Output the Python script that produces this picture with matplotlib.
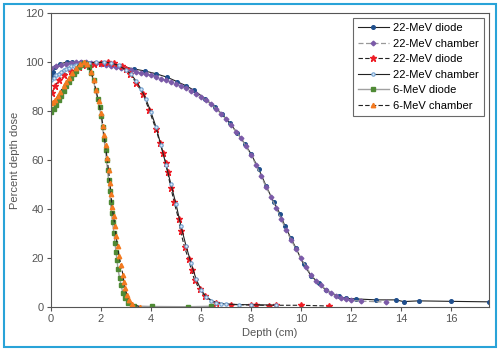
import matplotlib.pyplot as plt
from matplotlib.patches import Rectangle

# 22-MeV diode (navy circles, solid line)
d22_x = [0.02, 0.08, 0.16, 0.36, 0.64, 0.84, 1.2, 1.5, 1.76, 2.0, 2.4, 2.8, 3.3, 3.76, 4.2,
         4.64, 5.04, 5.4, 5.72, 6.16, 6.56, 6.84, 7.14, 7.44, 7.76, 8.0, 8.3, 8.6, 8.9, 9.16,
         9.36, 9.6, 9.8, 10.1, 10.4, 10.7, 11.0, 11.5, 11.8, 12.2, 13.0, 13.8, 14.1, 14.7, 16.0, 17.5]
d22_y = [94, 96, 98, 99.2, 100, 100, 99.8, 99.6, 99.5, 99.5, 99.1, 98.3, 97.2, 96.3, 95.2,
         93.8, 92.0, 90.3, 88.5, 85.0, 81.6, 78.7, 75.2, 71.2, 66.5, 62.5, 56.5, 49.5, 43, 38,
         33, 28, 24, 17.5, 12.8, 9.8, 6.8, 4.3, 3.5, 3.3, 2.9, 2.9, 2.2, 2.5, 2.3, 2.1]

# 22-MeV chamber (purple diamonds, grey dashed line)
c22_x = [0.0, 0.2, 0.4, 0.6, 0.8, 1.0, 1.2, 1.4, 1.6, 1.8, 2.0, 2.2, 2.4, 2.6, 2.8, 3.0, 3.2,
         3.4, 3.6, 3.8, 4.0, 4.2, 4.4, 4.6, 4.8, 5.0, 5.2, 5.4, 5.6, 5.8, 6.0, 6.2, 6.4, 6.6,
         6.8, 7.0, 7.2, 7.4, 7.6, 7.8, 8.0, 8.2, 8.4, 8.6, 8.8, 9.0, 9.2, 9.4, 9.6, 9.8, 10.0,
         10.2, 10.4, 10.6, 10.8, 11.0, 11.2, 11.4, 11.6, 11.8, 12.0, 12.4, 13.4]
c22_y = [97.5, 98.2, 98.8, 99.3, 99.7, 100, 100, 99.8, 99.6, 99.4, 99.1, 98.8, 98.3, 97.8,
         97.4, 97.0, 96.6, 96.1, 95.6, 95.1, 94.5, 94.0, 93.2, 92.6, 91.8, 91.0, 90.1, 89.2,
         88.1, 87.0, 85.7, 84.3, 82.8, 81.0, 78.9, 76.6, 74.1, 71.6, 68.9, 65.6, 62.0, 58.0,
         53.5, 49.0, 45.0, 40.5, 36.0, 31.5, 27.5, 23.5, 20.0, 16.5, 13.2, 10.8, 8.8, 7.0,
         5.6, 4.6, 3.7, 3.1, 2.7, 2.4, 2.0]

# second "22-MeV diode" (red stars, dashed line)
d12_x = [0.05, 0.15, 0.3, 0.5, 0.8, 1.1, 1.4, 1.7, 2.0, 2.26, 2.5, 2.84, 3.0, 3.16, 3.4,
         3.68, 3.92, 4.2, 4.36, 4.48, 4.6, 4.66, 4.8, 4.92, 5.1, 5.18, 5.34, 5.5, 5.62, 5.74,
         5.94, 6.14, 6.6, 7.18, 8.0, 8.2, 8.7, 9.0, 10.0, 11.1]
d12_y = [87.5, 90, 92.5, 94.5, 96.5, 97.8, 98.6, 99.2, 99.6, 99.8, 99.5, 98.2, 97, 95.3,
         91.5, 87, 80.5, 72.5, 67, 63, 58.7, 55, 48.5, 43, 36, 31, 24.5, 19.5, 15, 11,
         7.3, 4.3, 1.8, 1.0, 0.8, 0.8, 0.6, 0.7, 0.7, 0.4]

# second "22-MeV chamber" (light blue circles, solid line)
c12_x = [0.0, 0.1, 0.2, 0.3, 0.4, 0.5, 0.6, 0.7, 0.8, 0.9, 1.0, 1.2, 1.5, 1.8, 2.1, 2.4,
         2.7, 3.0, 3.2, 3.4, 3.6, 3.8, 4.0, 4.2, 4.4, 4.6, 4.8, 5.0, 5.2, 5.4, 5.6, 5.8,
         6.0, 6.2, 6.4, 6.6, 6.8, 7.0, 7.5, 8.0, 9.0]
c12_y = [92.5, 93.5, 94.5, 95.3, 96, 96.6, 97.2, 97.7, 98.2, 98.5, 98.8, 99.2, 99.6, 99.8,
         99.9, 99.6, 98.6, 96.8, 95, 92.3, 89, 84.8, 79.5, 73.5, 66, 58, 50, 42, 33, 25,
         18, 11.5, 7, 4.2, 2.6, 1.8, 1.3, 1.2, 1.0, 0.9, 0.8]

# 6-MeV diode (green squares, grey solid line)
d6_x = [0.0, 0.1, 0.2, 0.3, 0.4, 0.5, 0.6, 0.7, 0.8, 0.9, 1.0, 1.1, 1.2, 1.3, 1.4, 1.5,
        1.6, 1.7, 1.78, 1.86, 1.94, 2.0, 2.06, 2.12, 2.18, 2.22, 2.26, 2.3, 2.34, 2.38,
        2.42, 2.46, 2.52, 2.56, 2.6, 2.64, 2.68, 2.74, 2.8, 2.88, 2.96, 3.08, 3.3, 4.04,
        5.46, 6.4]
d6_y = [79.5, 81, 82.5, 84.5, 86, 88, 90, 91.8, 93.5, 95, 96.5, 97.8, 98.8, 99.6, 99.3,
        98, 95.5, 92.5, 88.5, 85, 81.5, 78, 73.5, 68.5, 64, 60, 56, 52, 47.5, 43, 38.5,
        34.5, 30, 26, 22.5, 19, 15.5, 12, 8.8, 5.7, 3.7, 1.6, 0.4, 0.2, 0.1, 0.3]

# 6-MeV chamber (orange triangles, dashed line)
c6_x = [0.0, 0.08, 0.16, 0.26, 0.36, 0.5, 0.6, 0.7, 0.85, 1.0, 1.15, 1.3, 1.45, 1.6, 1.7,
        1.8, 1.9, 2.0, 2.08, 2.12, 2.18, 2.24, 2.3, 2.36, 2.4, 2.44, 2.5, 2.56, 2.6, 2.66,
        2.72, 2.8, 2.88, 2.92, 2.96, 3.04, 3.12, 3.24, 3.56]
c6_y = [83.3, 83.8, 84.5, 86, 87.7, 90, 91.8, 93.4, 95.5, 97.5, 99, 99.8, 99, 96, 92.6,
        88.5, 84, 79, 74, 70, 66, 61, 56, 50.5, 46, 41, 37, 33, 29, 25, 21, 17, 13, 10,
        7.8, 4.9, 2.9, 1.2, 0.1]

plt.rcParams['font.family'] = ['Liberation Sans', 'DejaVu Sans']

fig = plt.figure(figsize=(5, 3.51), dpi=100)
ax = fig.add_axes([0.102, 0.1254, 0.876, 0.8376])

ax.plot(d22_x, d22_y, color='#222222', lw=0.8, marker='o', ms=2.6,
        mfc='#1f4e8c', mec='#1f4e8c', label='22-MeV diode')
ax.plot(c22_x, c22_y, color='#999999', lw=0.9, ls=(0, (4, 2)), marker='D', ms=2.4,
        mfc='#7b5aa8', mec='#7b5aa8', label='22-MeV chamber')
ax.plot(d12_x, d12_y, color='#222222', lw=0.8, ls=(0, (4, 2)), marker='*', ms=4.6,
        mfc='#ee1c25', mec='#ee1c25', label='22-MeV diode')
ax.plot(c12_x, c12_y, color='#222222', lw=0.8, marker='o', ms=2.4,
        mfc='#dbe8f5', mec='#6f9fd0', mew=0.8, label='22-MeV chamber')
ax.plot(d6_x, d6_y, color='#a0a0a0', lw=1.0, marker='s', ms=2.8,
        mfc='#4f8a35', mec='#4f8a35', label='6-MeV diode')
ax.plot(c6_x, c6_y, color='#222222', lw=0.8, ls=(0, (4, 2)), marker='^', ms=3.2,
        mfc='#f47a20', mec='#f47a20', label='6-MeV chamber')

ax.set_xlim(0, 17.52)
ax.set_ylim(0, 120)
ax.set_xticks(range(0, 17, 2))
ax.set_yticks(range(0, 121, 20))
ax.tick_params(labelsize=8, colors='#555555', length=3, width=0.8, pad=2)
for s in ax.spines.values():
    s.set_color('#555555')
    s.set_linewidth(0.8)
ax.set_xlabel('Depth (cm)', fontsize=8, color='#555555', labelpad=3)
ax.set_ylabel('Percent depth dose', fontsize=8, color='#555555', labelpad=4)

leg = ax.legend(loc='upper right', fontsize=8, frameon=True, fancybox=False,
                borderaxespad=0.45, handlelength=2.8, labelspacing=0.5,
                borderpad=0.45, handletextpad=0.4)
leg.get_frame().set_edgecolor('#444444')
leg.get_frame().set_linewidth(0.8)

# blue frame around the whole figure
fig.patches.append(Rectangle((0.008, 0.01), 0.984, 0.98, transform=fig.transFigure,
                             fill=False, edgecolor='#29a3d8', lw=1.5))

fig.savefig('out.png', dpi=100)
